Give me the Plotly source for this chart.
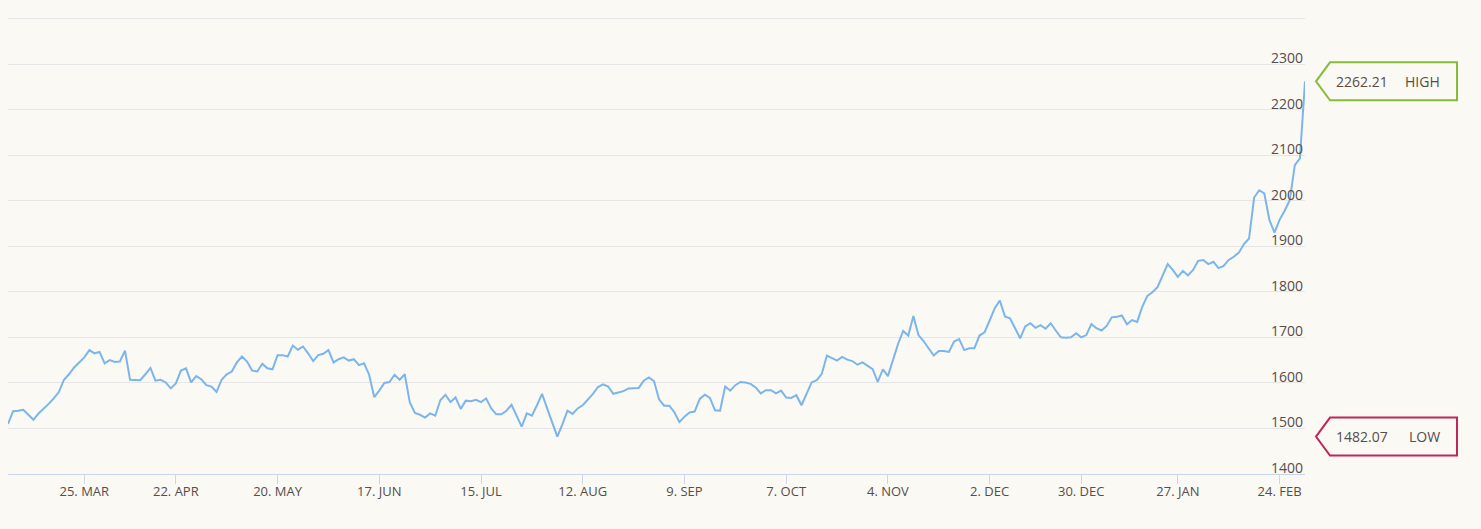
import pandas as pd
import plotly.graph_objects as go

# ---- data -------------------------------------------------------------
holidays = ["2024-03-29", "2024-04-01", "2024-12-25", "2024-12-26", "2025-01-01"]
start_date = "2024-03-04"
end_date = "2025-03-03"
dates = [d for d in pd.bdate_range(start_date, end_date)
         if d.strftime("%Y-%m-%d") not in holidays]

values = [
    1510, 1538, 1539, 1541, 1530, 1519, 1533, 1543, 1554, 1566,
    1580, 1607, 1619, 1634, 1645, 1656, 1672, 1665, 1668, 1643,
    1650, 1646, 1647, 1671, 1607, 1607, 1606, 1619, 1633, 1605,
    1607, 1601, 1588, 1599, 1627, 1632, 1601, 1615, 1608, 1595,
    1592, 1580, 1607, 1619, 1625, 1645, 1658, 1647, 1627, 1625,
    1642, 1632, 1630, 1661, 1661, 1658, 1682, 1673, 1680, 1665,
    1648, 1661, 1664, 1672, 1645, 1652, 1656, 1649, 1652, 1639,
    1643, 1618, 1569, 1583, 1600, 1602, 1618, 1607, 1619, 1557,
    1534, 1530, 1524, 1533, 1528, 1562, 1574, 1558, 1568, 1543,
    1561, 1560, 1563, 1558, 1566, 1544, 1531, 1531, 1539, 1552,
    1528, 1504, 1533, 1528, 1551, 1576, 1544, 1512, 1482.07, 1509,
    1539, 1532, 1544, 1551, 1563, 1576, 1591, 1597, 1592, 1576,
    1579, 1582, 1588, 1589, 1589, 1605, 1612, 1604, 1564, 1550,
    1550, 1536, 1514, 1526, 1535, 1537, 1565, 1574, 1567, 1540,
    1539, 1592, 1583, 1595, 1602, 1601, 1598, 1590, 1577, 1584,
    1584, 1577, 1583, 1568, 1567, 1573, 1551, 1576, 1601, 1606,
    1620, 1660, 1655, 1649, 1657, 1651, 1648, 1640, 1645, 1637,
    1630, 1602, 1630, 1615, 1650, 1686, 1714, 1704, 1747, 1705,
    1692, 1676, 1660, 1670, 1670, 1668, 1691, 1696, 1672, 1676,
    1676, 1704, 1711, 1737, 1764, 1781, 1746, 1742, 1720, 1698,
    1724, 1731, 1721, 1727, 1719, 1731, 1715, 1700, 1699, 1700,
    1709, 1700, 1705, 1729, 1720, 1715, 1725, 1744, 1745, 1748,
    1729, 1738, 1734, 1767, 1791, 1799, 1810, 1835, 1861, 1848,
    1833, 1846, 1836, 1848, 1868, 1870, 1861, 1866, 1852, 1857,
    1870, 1877, 1886, 1905, 1917, 2007, 2023, 2016, 1958, 1930,
    1958, 1978, 2001, 2078, 2093, 2262.21,
]

tick_dates = ["2024-03-25", "2024-04-22", "2024-05-20", "2024-06-17",
              "2024-07-15", "2024-08-12", "2024-09-09", "2024-10-07",
              "2024-11-04", "2024-12-02", "2024-12-30", "2025-01-27",
              "2025-02-24"]
tick_labels = ["25. MAR", "22. APR", "20. MAY", "17. JUN", "15. JUL",
               "12. AUG", "9. SEP", "7. OCT", "4. NOV", "2. DEC",
               "30. DEC", "27. JAN", "24. FEB"]

y_ticks = [1400, 1500, 1600, 1700, 1800, 1900, 2000, 2100, 2200, 2300, 2400]
y_labels = ["1400", "1500", "1600", "1700", "1800", "1900", "2000",
            "2100", "2200", "2300", ""]

high_label = "HIGH"
low_label = "LOW"

# ---- styles -----------------------------------------------------------
BG = "#faf9f3"
TEXT = "#574d4b"
FONT = "Open Sans"
LINE = "#7cb5ec"
AXIS = "#ccd6eb"
GRID = "#e6e6e6"
HIGH_C = "#86bc3c"
LOW_C = "#c0265e"

fig = go.Figure()
fig.add_trace(go.Scatter(
    x=dates, y=values, mode="lines",
    line=dict(color=LINE, width=2),
    hoverinfo="x+y", showlegend=False,
))

# the page body adds an 8px margin, so the figure is sized to fit inside
fig.update_layout(
    width=1473, height=521,
    margin=dict(l=0, r=176, t=6, b=55),
    paper_bgcolor=BG, plot_bgcolor=BG,
    font=dict(family=FONT, color=TEXT, size=13),
    showlegend=False,
)

fig.update_xaxes(
    type="date",
    range=[dates[0], dates[-1]],
    rangebreaks=[dict(bounds=["sat", "mon"]), dict(values=holidays)],
    tickmode="array", tickvals=tick_dates, ticktext=tick_labels,
    ticks="outside", ticklen=9, tickcolor=AXIS, tickwidth=1,
    ticklabelstandoff=-4,
    showline=True, linecolor=AXIS, linewidth=1,
    showgrid=False, zeroline=False,
    tickfont=dict(family=FONT, size=13, color=TEXT),
)

fig.update_yaxes(
    side="right",
    range=[1400, 2410],
    tickmode="array", tickvals=y_ticks,
    showticklabels=False,
    showgrid=True, gridcolor=GRID, gridwidth=1,
    zeroline=False, showline=False, ticks="",
)

# y tick labels sit just above their grid lines, flush with the right edge
for tv, tl in zip(y_ticks, y_labels):
    if tl:
        fig.add_annotation(
            xref="paper", yref="y", x=1, y=tv,
            xanchor="right", yanchor="bottom", yshift=-5,
            text=tl, showarrow=False,
            font=dict(family=FONT, size=14, color=TEXT),
        )

hi = max(values)
lo = min(values)
box_path = "M 11 0 L 25 19 L 152 19 L 152 -19 L 25 -19 Z"
for val, lab, col in [(hi, high_label, HIGH_C), (lo, low_label, LOW_C)]:
    fig.add_shape(
        type="path", path=box_path,
        xref="paper", yref="y",
        xsizemode="pixel", ysizemode="pixel",
        xanchor=1, yanchor=val,
        line=dict(color=col, width=2), fillcolor=BG,
        layer="above",
    )
    fig.add_annotation(
        xref="paper", yref="y", x=1, y=val,
        xanchor="left", yanchor="middle", xshift=29,
        text=f"{val:.2f}", showarrow=False,
        font=dict(family=FONT, size=14, color=TEXT),
    )
    fig.add_annotation(
        xref="paper", yref="y", x=1, y=val,
        xanchor="right", yanchor="middle", xshift=137,
        text=lab, showarrow=False,
        font=dict(family=FONT, size=14, color=TEXT),
    )

fig.write_html(
    "out.html",
    post_script="document.body.style.backgroundColor='%s';" % BG,
)
